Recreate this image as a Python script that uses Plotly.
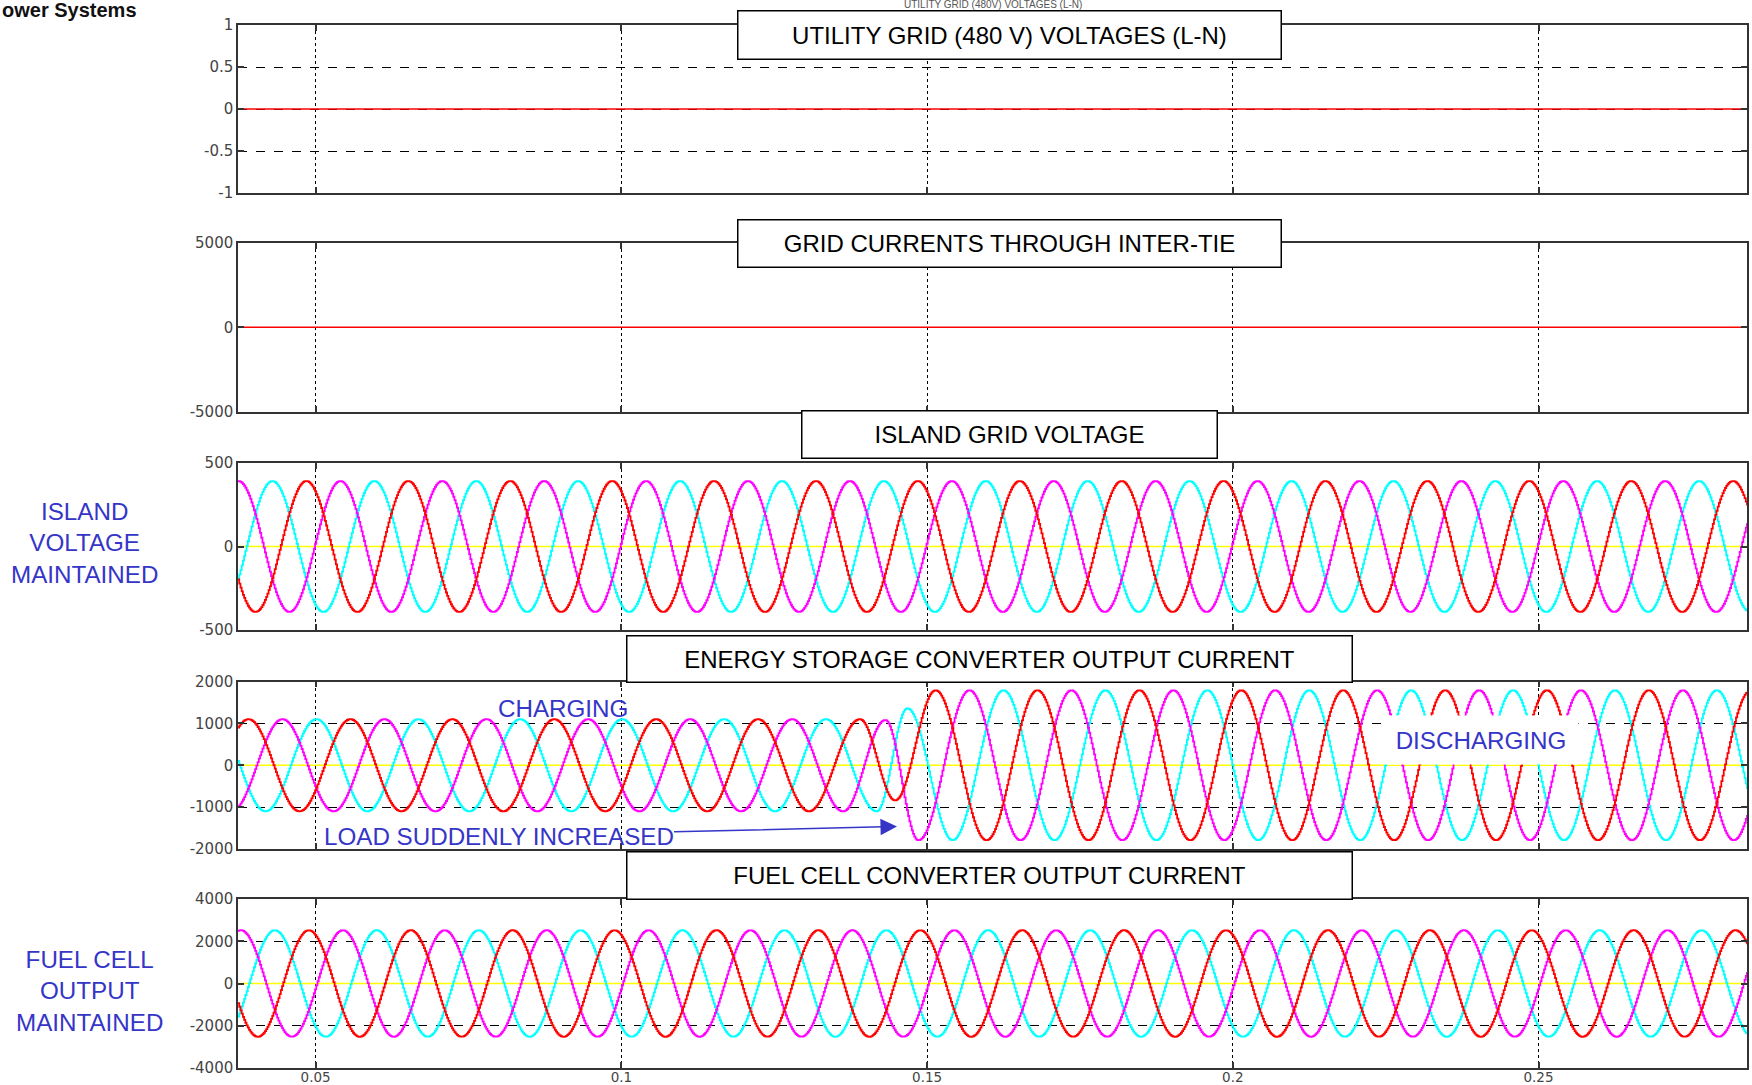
import numpy as np
import plotly.graph_objects as go

# ---------------- data ----------------
T_START, T_END = 0.0373, 0.2841          # visible time window (s)
SAMPLE_STEP = 0.0002                     # simulation sample step (s)
FREQ_HZ = 60.0

PHASE_NAMES = ["Phase A", "Phase B", "Phase C"]
PHASE_SHIFT_CYCLES = [0.0, 1.0 / 3.0, 2.0 / 3.0]   # peak delay of each phase

# panel 1 & 2: utility grid disconnected -> zero
utility_voltage_t = [T_START, T_END]
utility_voltage_v = [0.0, 0.0]
grid_current_t = [T_START, T_END]
grid_current_i = [0.0, 0.0]

# panel 3: island grid voltage
island_v_peak = 392.0
island_v_first_peak = 0.0484

# panel 4: energy storage converter current
storage_charging_peak = 1100.0
storage_charging_first_peak = 0.0556
storage_discharging_peak = 1790.0
storage_discharging_first_peak = 0.0513
# transition extrema (time, value) per phase
storage_transition_t = [
    [0.13893, 0.1447, 0.1513],   # phase A (red)
    [0.1362, 0.1431, 0.1485],    # phase B (magenta)
    [0.1417, 0.1467, 0.1541],    # phase C (cyan)
]
storage_transition_v = [
    [1100.0, -840.0, 1790.0],
    [-1100.0, 1080.0, -1790.0],
    [-1100.0, 1360.0, -1790.0],
]

# panel 5: fuel cell converter current
fuel_cell_peak = 2520.0
fuel_cell_first_peak = 0.0488

# axes ticks
x_tick_vals = [0.05, 0.1, 0.15, 0.2, 0.25]
x_tick_text = ["0.05", "0.1", "0.15", "0.2", "0.25"]
y_ranges = [[-1, 1], [-5000, 5000], [-500, 500], [-2000, 2000], [-4000, 4000]]
y_tick_vals = [
    [-1, -0.5, 0, 0.5, 1],
    [-5000, 0, 5000],
    [-500, 0, 500],
    [-2000, -1000, 0, 1000, 2000],
    [-4000, -2000, 0, 2000, 4000],
]
y_tick_text = [
    ["-1", "-0.5", "0", "0.5", "1"],
    ["-5000", "0", "5000"],
    ["-500", "0", "500"],
    ["-2000", "-1000", "0", "1000", "2000"],
    ["-4000", "-2000", "0", "2000", "4000"],
]

panel_titles = [
    "UTILITY GRID (480 V) VOLTAGES (L-N)",
    "GRID CURRENTS THROUGH INTER-TIE",
    "ISLAND GRID VOLTAGE",
    "ENERGY STORAGE CONVERTER OUTPUT CURRENT",
    "FUEL CELL CONVERTER OUTPUT CURRENT",
]

# ---------------- styling / layout ----------------
W, H = 1752, 1085
PHASE_COLORS = ["#ff0000", "#ff00ff", "#00ffff"]
ZERO_COLOR = "#ffff00"
BLUE = "#3535c8"
FONT = "Liberation Sans, Arial, Helvetica, sans-serif"
Y_TICK_FONT = dict(family="DejaVu Sans, sans-serif", size=15, color="#444444")
X_TICK_FONT = dict(family="DejaVu Sans, sans-serif", size=13.5, color="#444444")

X_LEFT_PX, X_RIGHT_PX = 238, 1747
PANEL_PX = [(25, 193), (243, 411.5), (463, 630), (681.5, 849), (899, 1068)]


def px_x(x):
    return x / W


def px_y(y):
    return 1 - y / H


t = np.arange(T_START, T_END + SAMPLE_STEP / 2, SAMPLE_STEP)


def steady(tt, peak, first_peak, shift):
    return peak * np.cos(2 * np.pi * FREQ_HZ * (tt - first_peak) - 2 * np.pi * shift)


def storage_phase(k):
    kt, kv = storage_transition_t[k], storage_transition_v[k]
    y = np.where(
        t < kt[0],
        steady(t, storage_charging_peak, storage_charging_first_peak, PHASE_SHIFT_CYCLES[k]),
        steady(t, storage_discharging_peak, storage_discharging_first_peak, PHASE_SHIFT_CYCLES[k]),
    )
    for j in range(len(kt) - 1):
        t0, t1, v0, v1 = kt[j], kt[j + 1], kv[j], kv[j + 1]
        m = (t >= t0) & (t <= t1)
        y[m] = (v0 + v1) / 2 + (v0 - v1) / 2 * np.cos(np.pi * (t[m] - t0) / (t1 - t0))
    return y


fig = go.Figure()

line_w = 1.8
# panel 1
fig.add_trace(go.Scatter(x=utility_voltage_t, y=utility_voltage_v, mode="lines",
                         line=dict(color="#ff0000", width=1.3), xaxis="x", yaxis="y"))
# panel 2
fig.add_trace(go.Scatter(x=grid_current_t, y=grid_current_i, mode="lines",
                         line=dict(color="#ff0000", width=1.3), xaxis="x2", yaxis="y2"))

for idx, (ax, ay) in enumerate([("x3", "y3"), ("x4", "y4"), ("x5", "y5")]):
    fig.add_trace(go.Scatter(x=[T_START, T_END], y=[0, 0], mode="lines",
                             line=dict(color=ZERO_COLOR, width=1.5), xaxis=ax, yaxis=ay))

# panels 3-5 phases (draw cyan, magenta, red so red on top)
for k in [2, 1, 0]:
    fig.add_trace(go.Scatter(
        x=t, y=steady(t, island_v_peak, island_v_first_peak, PHASE_SHIFT_CYCLES[k]),
        mode="lines", name=PHASE_NAMES[k], line=dict(color=PHASE_COLORS[k], width=line_w, shape="hv"),
        xaxis="x3", yaxis="y3"))
    fig.add_trace(go.Scatter(
        x=t, y=storage_phase(k),
        mode="lines", name=PHASE_NAMES[k], line=dict(color=PHASE_COLORS[k], width=line_w, shape="hv"),
        xaxis="x4", yaxis="y4"))
    fig.add_trace(go.Scatter(
        x=t, y=steady(t, fuel_cell_peak, fuel_cell_first_peak, PHASE_SHIFT_CYCLES[k]),
        mode="lines", name=PHASE_NAMES[k], line=dict(color=PHASE_COLORS[k], width=line_w, shape="hv"),
        xaxis="x5", yaxis="y5"))

layout = dict(
    width=W, height=H,
    margin=dict(l=0, r=0, t=0, b=0),
    paper_bgcolor="white", plot_bgcolor="white",
    showlegend=False,
)

for i in range(5):
    n = "" if i == 0 else str(i + 1)
    top, bot = PANEL_PX[i]
    layout["xaxis" + n] = dict(
        domain=[px_x(X_LEFT_PX), px_x(X_RIGHT_PX)], range=[T_START, T_END],
        anchor="y" + n, tickvals=x_tick_vals, ticktext=x_tick_text,
        showticklabels=(i == 4), tickfont=X_TICK_FONT, ticklabelstandoff=-4,
        showgrid=True, gridcolor="#000000", gridwidth=1, griddash="dot",
        showline=True, linecolor="#333333", linewidth=1.5, mirror="ticks",
        ticks="inside", ticklen=6, tickcolor="#333333", tickwidth=1.5,
        zeroline=False, automargin=False, fixedrange=True,
    )
    layout["yaxis" + n] = dict(
        domain=[px_y(bot), px_y(top)], range=y_ranges[i], anchor="x" + n,
        tickvals=y_tick_vals[i], ticktext=y_tick_text[i], tickfont=Y_TICK_FONT,
        showgrid=True, gridcolor="#000000", gridwidth=1, griddash="dash",
        showline=True, linecolor="#333333", linewidth=1.5, mirror="ticks",
        ticks="inside", ticklen=6, tickcolor="#333333", tickwidth=1.5,
        zeroline=False, automargin=False, fixedrange=True,
    )

fig.update_layout(**layout)

annotations = []
# faint header remnant above the first title box (drawn first so the box sits over it)
annotations.append(dict(text="UTILITY GRID (480V) VOLTAGES (L-N)", x=px_x(993), y=px_y(4.5), xref="paper",
                        yref="paper", xanchor="center", yanchor="middle", showarrow=False,
                        font=dict(family=FONT, size=10, color="#555555")))

# title boxes: (cx, cy, w, h) in pixels
title_boxes = [(1009.5, 35, 545, 50), (1009.5, 243.5, 545, 49), (1009.5, 434.5, 417, 49),
               (989.5, 659, 727, 48), (989.5, 875.5, 727, 49)]
for title, (cx, cy, bw, bh) in zip(panel_titles, title_boxes):
    annotations.append(dict(
        text=title, x=px_x(cx), y=px_y(cy), xref="paper", yref="paper",
        xanchor="center", yanchor="middle", showarrow=False,
        width=bw - 3, height=bh - 3, borderpad=0, borderwidth=1.5,
        bordercolor="#000000", bgcolor="#ffffff",
        font=dict(family=FONT, size=24, color="#000000"),
    ))

annotations.append(dict(text="<b>ower Systems</b>", x=px_x(0), y=px_y(-3), xref="paper", yref="paper",
                        xanchor="left", yanchor="top", showarrow=False,
                        font=dict(family="Liberation Sans Narrow, Liberation Sans, Arial", size=20, color="#111111")))

# blue notes
BLUE_SIZE = 24.2
annotations.append(dict(text="ISLAND<br>VOLTAGE<br>MAINTAINED", x=px_x(84), y=px_y(543), xref="paper",
                        yref="paper", xanchor="center", yanchor="middle", showarrow=False,
                        font=dict(family=FONT, size=BLUE_SIZE, color=BLUE)))
annotations.append(dict(text="FUEL CELL<br>OUTPUT<br>MAINTAINED", x=px_x(89), y=px_y(991), xref="paper",
                        yref="paper", xanchor="center", yanchor="middle", showarrow=False,
                        font=dict(family=FONT, size=BLUE_SIZE, color=BLUE)))
annotations.append(dict(text="CHARGING", x=px_x(563), y=px_y(708), xref="paper", yref="paper",
                        xanchor="center", yanchor="middle", showarrow=False,
                        font=dict(family=FONT, size=BLUE_SIZE, color=BLUE)))
annotations.append(dict(text="DISCHARGING", x=px_x(1481), y=px_y(740), xref="paper", yref="paper",
                        xanchor="center", yanchor="middle", showarrow=False,
                        width=192, height=46, bgcolor="#ffffff",
                        font=dict(family=FONT, size=BLUE_SIZE, color=BLUE)))
annotations.append(dict(text="LOAD SUDDENLY INCREASED", x=px_x(897), y=px_y(826.5), xref="paper",
                        yref="paper", ax=498.5 - 897, ay=836 - 826.5, axref="pixel", ayref="pixel",
                        showarrow=True, arrowhead=2, arrowsize=2.2, arrowwidth=1.5, arrowcolor=BLUE,
                        standoff=0, borderpad=0,
                        font=dict(family=FONT, size=BLUE_SIZE, color=BLUE)))

fig.update_layout(annotations=annotations)

fig.write_html("out.html")
